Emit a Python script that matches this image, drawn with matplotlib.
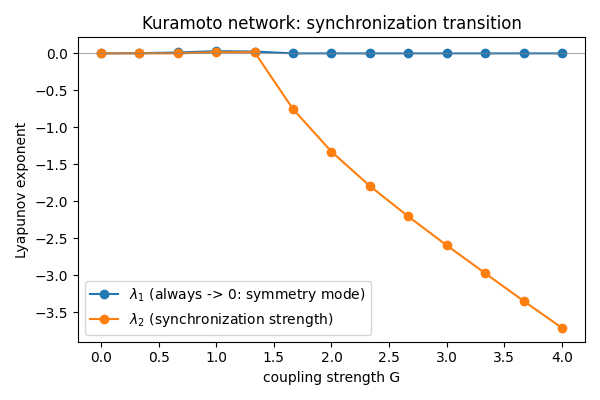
import numpy as np
import matplotlib
matplotlib.use("Agg")
import matplotlib.pyplot as plt

# coupling strengths and the two Lyapunov exponents
G = np.linspace(0, 4, 13)
lam1 = [0.0, 0.003, 0.012, 0.03, 0.025, 0.0, 0.0, 0.0, 0.0, 0.0, 0.0, 0.0, 0.0]
lam2 = [0.0, 0.0, 0.0, 0.015, 0.015, -0.754, -1.33, -1.795, -2.207,
        -2.598, -2.975, -3.35, -3.715]

fig, ax = plt.subplots(figsize=(6, 4), dpi=100)

ax.plot(G, lam1, "o-", label=r"$\lambda_1$ (always -> 0: symmetry mode)")
ax.plot(G, lam2, "o-", label=r"$\lambda_2$ (synchronization strength)")
ax.axhline(0, color="gray", lw=0.5)

ax.set_xlabel("coupling strength G")
ax.set_ylabel("Lyapunov exponent")
ax.set_title("Kuramoto network: synchronization transition")
ax.legend(loc="lower left")

fig.tight_layout()
fig.savefig("out.png")
